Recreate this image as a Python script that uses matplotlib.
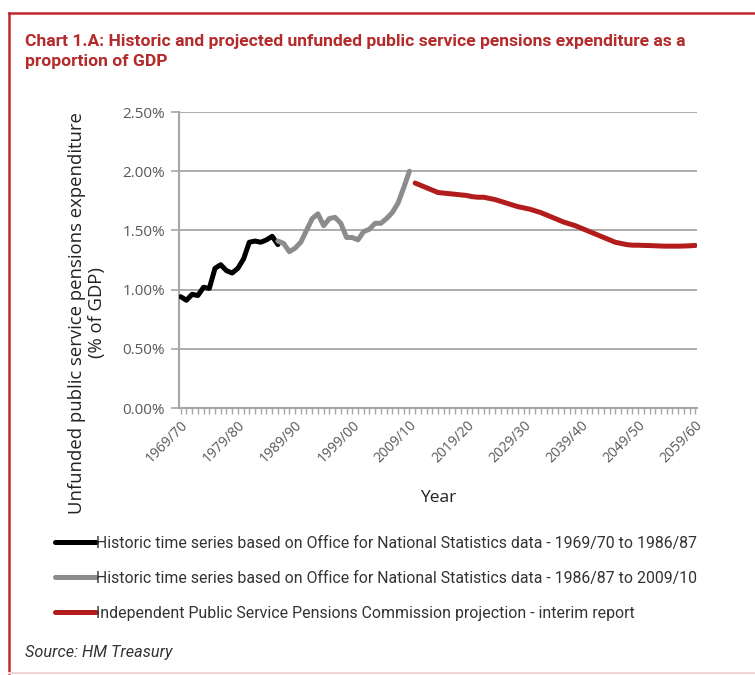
import matplotlib.pyplot as plt
from matplotlib.lines import Line2D
from matplotlib.ticker import FixedLocator, MultipleLocator, PercentFormatter

# start year of each financial year on the category axis
years = list(range(1969, 2060))
year_labels = [f"{y}/{(y + 1) % 100:02d}" for y in years]

# Historic ONS series 1969/70 - 1986/87 (% of GDP)
ons_early = [0.94, 0.91, 0.96, 0.95, 1.02, 1.01, 1.18, 1.21, 1.16, 1.14,
             1.18, 1.26, 1.40, 1.41, 1.40, 1.42, 1.45, 1.38]
# Historic ONS series 1986/87 - 2009/10
ons_late = [1.41, 1.39, 1.32, 1.35, 1.40, 1.50, 1.60, 1.64, 1.54, 1.60,
            1.61, 1.56, 1.44, 1.44, 1.42, 1.49, 1.51, 1.56, 1.56, 1.60,
            1.65, 1.73, 1.86, 2.00]
# IPSPC projection 2010/11 - 2059/60
projection = [1.90, 1.88, 1.86, 1.84, 1.82, 1.815, 1.81, 1.805, 1.80, 1.795,
              1.785, 1.78, 1.78, 1.77, 1.76, 1.745, 1.73, 1.715, 1.70, 1.69,
              1.68, 1.665, 1.65, 1.63, 1.61, 1.59, 1.57, 1.555, 1.54, 1.52,
              1.50, 1.48, 1.46, 1.44, 1.42, 1.40, 1.39, 1.38, 1.375, 1.375,
              1.373, 1.372, 1.37, 1.368, 1.367, 1.367, 1.367, 1.368, 1.37, 1.373]

labels = [
    "Historic time series based on Office for National Statistics data - 1969/70 to 1986/87",
    "Historic time series based on Office for National Statistics data - 1986/87 to 2009/10",
    "Independent Public Service Pensions Commission projection - interim report",
]
colors = ["#000000", "#8c8c8c", "#b21c1c"]

RED = "#b52a2a"
AXIS_GREY = "#a6a6a6"
TEXT_GREY = "#595959"
NARROW = "Roboto"
SANS = "Open Sans"

fig = plt.figure(figsize=(7.55, 6.75), dpi=100)
ax = fig.add_axes([179 / 755, 1 - 408 / 675, 518 / 755, 296 / 675])

i0 = 0
i1 = i0 + len(ons_early) - 1
i2 = i1 + len(ons_late) - 1
x_early = list(range(i0, i0 + len(ons_early)))
x_late = list(range(i1, i1 + len(ons_late)))
x_proj = list(range(i2 + 1, i2 + 1 + len(projection)))

lines = []
for xs, ys, c in [(x_early, ons_early, colors[0]), (x_late, ons_late, colors[1]),
                  (x_proj, projection, colors[2])]:
    ln, = ax.plot(xs, ys, color=c, lw=3.6, solid_capstyle="round",
                  solid_joinstyle="round", zorder=3)
    lines.append(ln)

ax.set_xlim(-0.3, len(years) - 1 + 0.3)
ax.set_ylim(0, 2.5)
ax.yaxis.set_major_locator(MultipleLocator(0.5))
ax.yaxis.set_major_formatter(PercentFormatter(decimals=2))
ax.grid(axis="y", color=AXIS_GREY, lw=1.3)
ax.set_axisbelow(True)

major = list(range(0, len(years), 10))
ax.xaxis.set_major_locator(FixedLocator(major))
ax.xaxis.set_minor_locator(FixedLocator(range(len(years))))
ax.set_xticklabels([year_labels[i] for i in major], rotation=45, ha="right",
                   va="top", rotation_mode="anchor", fontsize=10,
                   color=TEXT_GREY, family=SANS)
for t in ax.get_yticklabels():
    t.set_fontsize(11)
    t.set_color(TEXT_GREY)
    t.set_family(SANS)
ax.tick_params(axis="x", which="both", length=4, color=AXIS_GREY, width=1, pad=3)
ax.tick_params(axis="y", length=6, color=AXIS_GREY, width=1.2, pad=4)

for s in ["top", "right"]:
    ax.spines[s].set_visible(False)
for s in ["left", "bottom"]:
    ax.spines[s].set_color(AXIS_GREY)
    ax.spines[s].set_linewidth(1.5)

ax.set_xlabel("Year", fontsize=12.5, family=SANS, color="#222222", labelpad=17)
fig.text(87 / 755, 1 - 313 / 675,
         "Unfunded public service pensions expenditure\n(% of GDP)",
         rotation=90, ha="center", va="center", fontsize=13.3, family=SANS,
         color="#222222", linespacing=1.1)

# title
fig.text(25 / 755, 1 - 34 / 675,
         "Chart 1.A: Historic and projected unfunded public service pensions expenditure as a\nproportion of GDP",
         ha="left", va="top", fontsize=12.6, fontweight="bold", family=NARROW,
         color=RED, linespacing=1.38)

# legend
fig.legend(lines, labels, loc="upper left", bbox_to_anchor=(55 / 755, 1 - 536 / 675),
           frameon=False, prop={"family": NARROW, "size": 11.4},
           handlelength=2.6, handletextpad=0.0, labelspacing=1.25,
           borderaxespad=0, borderpad=0, labelcolor="#333333")

fig.text(25 / 755, 1 - 652 / 675, "Source: HM Treasury", ha="left", va="center",
         fontsize=11.7, style="italic", family=NARROW, color="#333333")

# frame around the chart box
fig.add_artist(Line2D([9 / 755, 9 / 755], [0.003, 1 - 13 / 675], color="#c0282d", lw=1.8))
fig.add_artist(Line2D([9 / 755, 1], [1 - 13 / 675, 1 - 13 / 675], color="#c0282d", lw=1.8))
fig.add_artist(Line2D([9 / 755, 1], [0.003, 0.003], color="#f2d4d6", lw=1.5))

fig.savefig("out.png", dpi=100)
